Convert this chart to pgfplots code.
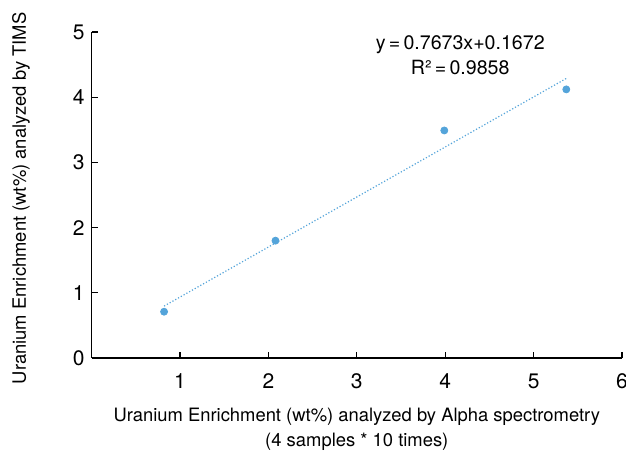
\documentclass[border=0pt]{standalone}
\usepackage{fontspec}
\setmainfont{TeX Gyre Heros}
\usepackage{pgfplots}
\pgfplotsset{compat=1.18}
\definecolor{ptblue}{RGB}{84,164,218}
\begin{document}
\begin{tikzpicture}
\begin{axis}[
  scale only axis,
  width=265.2pt, height=163pt,
  xmin=0, xmax=6, ymin=0, ymax=5,
  xtick={1,2,3,4,5,6},
  ytick={0,1,2,3,4,5},
  axis x line=bottom, axis y line=left,
  axis line style={-, black, line width=0.6pt},
  tick align=inside,
  major tick length=3pt,
  tick style={black, line width=0.6pt},
  /pgf/number format/assume math mode=true,
  tick label style={font=\fontsize{10.5}{12}\selectfont},
  xticklabel style={yshift=-4.5pt},
  yticklabel style={xshift=0pt},
  xlabel={Uranium Enrichment (wt\%) analyzed by Alpha spectrometry\\(4 samples * 10 times)},
  xlabel style={at={(axis description cs:0.5,0)}, anchor=north, yshift=-21.5pt, align=center, font=\fontsize{9.2}{12.5}\selectfont},
  ylabel={Uranium Enrichment (wt\%) analyzed by TIMS},
  ylabel style={at={(axis description cs:-0.133,0.49)}, anchor=center, font=\fontsize{9.2}{12}\selectfont},
  clip=false,
]
\addplot[only marks, mark=*, mark size=1.75pt, color=ptblue] coordinates {
  (0.82,0.71) (2.08,1.80) (3.99,3.49) (5.37,4.12)
};
\addplot[ptblue, densely dotted, line width=0.6pt] coordinates {
  (0.82,0.7964) (5.37,4.2877)
};
\node[font=\fontsize{9.8}{12.5}\selectfont, align=center] at (axis cs:4.17,4.64) {y\,=\,0.7673x+0.1672\\R²\,=\,0.9858};
\end{axis}
\pgfresetboundingbox
\path (-45.8pt,-46pt) rectangle (267.2pt,179pt);
\end{tikzpicture}
\end{document}
